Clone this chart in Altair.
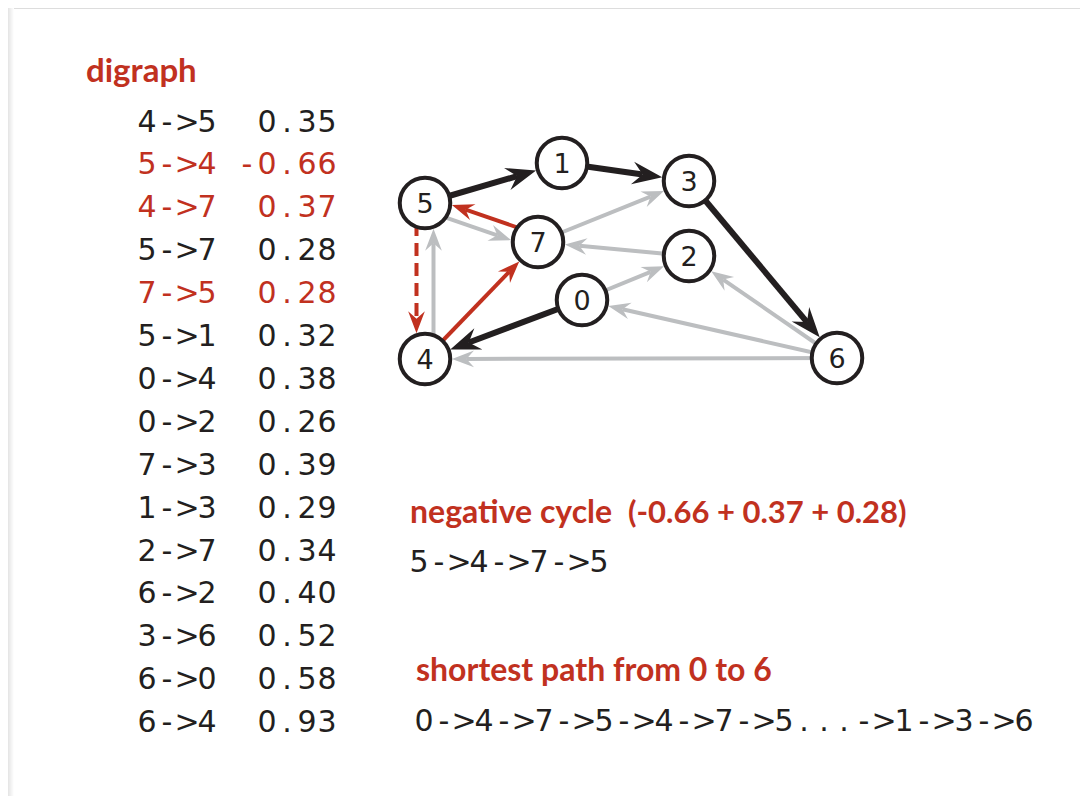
import math
import altair as alt
import pandas as pd

RED = "#c1311f"
INK = "#231f20"
GRAY = "#bcbec0"

# ---- graph nodes (pixel layout of the drawing) ----
node_ids = ["0", "1", "2", "3", "4", "5", "6", "7"]
node_x = [582, 562, 689, 689, 425, 425, 837, 538]
node_y = [300, 163, 256, 181, 359, 203, 358, 242]

# ---- edge list as printed ----
list_edges = ["4->5", "5->4", "4->7", "5->7", "7->5", "5->1", "0->4", "0->2",
              "7->3", "1->3", "2->7", "6->2", "3->6", "6->0", "6->4"]
list_weights = ["0.35", "-0.66", "0.37", "0.28", "0.28", "0.32", "0.38", "0.26",
                "0.39", "0.29", "0.34", "0.40", "0.52", "0.58", "0.93"]
list_red = [False, True, True, False, True, False, False, False,
            False, False, False, False, False, False, False]
edge_style = ["gray", "reddash", "red", "gray", "red", "black", "black", "gray",
              "gray", "black", "gray", "gray", "black", "gray", "gray"]
edge_offset = [8.5, 8.5, 0, 7, 7, 0, 0, 0, 0, 0, 0, 0, 0, 0, 0]

cycle_text = "5->4->7->5"
path_text = "0->4->7->5->4->7->5...->1->3->6"

style_color = {"gray": GRAY, "red": RED, "reddash": RED, "black": INK}
style_width = {"gray": 4, "red": 4, "reddash": 4, "black": 6}
style_head = {"gray": 22, "red": 22, "reddash": 22, "black": 30}

pos = {n: (x, y) for n, x, y in zip(node_ids, node_x, node_y)}
R_OUT = 27.0
NOTCH = 0.66

rows = []
for e, st, off in zip(list_edges, edge_style, edge_offset):
    s, t = e.split("->")
    (xs, ys), (xt, yt) = pos[s], pos[t]
    dx, dy = xt - xs, yt - ys
    n = math.hypot(dx, dy)
    ux, uy = dx / n, dy / n
    px, py = -uy, ux
    along = math.sqrt(R_OUT ** 2 - off ** 2)
    tipx = xt + px * off - ux * along
    tipy = yt + py * off - uy * along
    L = style_head[st]
    rows.append(dict(
        style=st,
        x=xs + px * off, y=ys + py * off,
        x2=tipx - ux * NOTCH * L, y2=tipy - uy * NOTCH * L,
        tx=tipx, ty=tipy,
        angle=math.degrees(math.atan2(ux, -uy)) % 360,
        size=L * L,
        color=style_color[st],
    ))
edges = pd.DataFrame(rows)

nodes = pd.DataFrame({"id": node_ids, "x": node_x, "y": node_y})

# ---- typewriter-style text laid out on a fixed character grid ----
CELL = 20.0
LIST_X0 = 137
LIST_Y0 = 131.5
LIST_DY = 42.9
chars = []


def add_line(text, x0, y, color, start_col=0):
    for i, ch in enumerate(text):
        if ch != " ":
            chars.append(dict(ch=ch, x=x0 + (start_col + i + 0.5) * CELL, y=y, color=color))


for i, (e, w, red) in enumerate(zip(list_edges, list_weights, list_red)):
    col = RED if red else INK
    y = LIST_Y0 + i * LIST_DY
    add_line(e, LIST_X0, y, col, 0)
    add_line(w, LIST_X0, y, col, 10 - len(w))
add_line(cycle_text, 409, 572, INK)
add_line(path_text, 414, 731, INK)
chars = pd.DataFrame(chars)

heads = pd.DataFrame({
    "text": ["digraph", "negative cycle", "(-0.66 + 0.37 + 0.28)", "shortest path from 0 to 6"],
    "x": [86, 410, 628, 416],
    "y": [82, 523, 523, 681],
    "size": [33, 32, 31, 32],
})

xs_ = alt.Scale(domain=[8, 1080], nice=False, zero=False)
ys_ = alt.Scale(domain=[8, 796], nice=False, zero=False, reverse=True)


def X(f):
    return alt.X(f, type="quantitative", scale=xs_, axis=None)


def Y(f):
    return alt.Y(f, type="quantitative", scale=ys_, axis=None)


shadow = alt.Chart(pd.DataFrame({"a": [0]})).mark_rect(
    color=alt.Gradient(gradient="linear", x1=0, x2=1, y1=0, y2=0,
                       stops=[alt.GradientStop(color="#e4e4e4", offset=0),
                              alt.GradientStop(color="#ffffff", offset=1)])
).encode(x=alt.value(0), x2=alt.value(6), y=alt.value(0), y2=alt.value(788))

layers = [shadow]
for st in ["gray", "red", "black"]:
    d = edges[edges["style"] == st]
    layers.append(alt.Chart(d).mark_rule(color=style_color[st], strokeWidth=style_width[st],
                                         strokeCap="butt").encode(
        x=X("x"), y=Y("y"), x2="x2", y2="y2"))
d = edges[edges["style"] == "reddash"]
layers.append(alt.Chart(d).mark_rule(color=RED, strokeWidth=4, strokeCap="butt",
                                     strokeDash=[13, 7]).encode(
    x=X("x"), y=Y("y"), x2="x2", y2="y2"))

circles = alt.Chart(nodes).mark_point(
    shape="circle", filled=True, fill="white", stroke=INK, strokeWidth=4,
    opacity=1, size=2550
).encode(x=X("x"), y=Y("y"))
layers.append(circles)

arrows = alt.Chart(edges).mark_point(
    shape="M0,0L0.76,2L0,1.32L-0.76,2Z", filled=True, opacity=1
).encode(
    x=X("tx"), y=Y("ty"),
    angle=alt.Angle("angle:Q", scale=None),
    size=alt.Size("size:Q", scale=None),
    color=alt.Color("color:N", scale=None),
)
layers.append(arrows)

labels = alt.Chart(nodes).mark_text(
    font="DejaVu Sans", fontSize=27, color=INK, align="center",
    baseline="alphabetic", dy=10
).encode(x=X("x"), y=Y("y"), text="id:N")
layers.append(labels)

mono = alt.Chart(chars).mark_text(
    font="DejaVu Sans", fontSize=30, align="center", baseline="alphabetic"
).encode(x=X("x"), y=Y("y"), text="ch:N", color=alt.Color("color:N", scale=None))
layers.append(mono)

bold = alt.Chart(heads).mark_text(
    font="Lato", fontWeight="bold", color=RED, align="left", baseline="alphabetic"
).encode(x=X("x"), y=Y("y"), text="text:N", size=alt.Size("size:Q", scale=None))
layers.append(bold)

chart = alt.layer(*layers).properties(
    width=1072, height=788, autosize=alt.AutoSizeParams(type="none"), padding=0
).configure_view(stroke=None).configure(background="white")

chart.save("out.html", embed_options={"renderer": "svg", "actions": False})
